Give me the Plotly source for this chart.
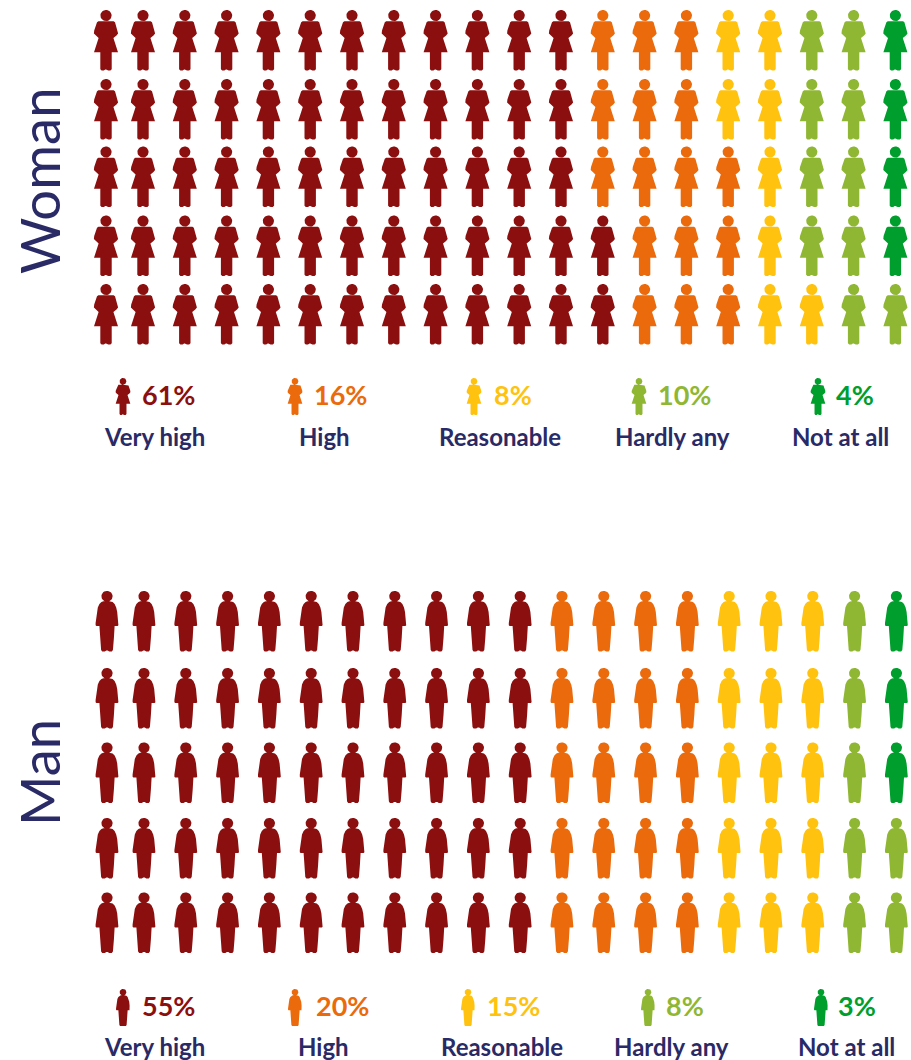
import numpy as np
import plotly.graph_objects as go

categories = ["Very high", "High", "Reasonable", "Hardly any", "Not at all"]
colors = ["#8c0f0f", "#ea6a0c", "#ffc20e", "#90b733", "#009e2d"]
navy = "#2a2a66"

woman_pct = [61, 16, 8, 10, 4]
man_pct = [55, 20, 15, 8, 3]

# icons per row (5 rows of 20) for each category
woman_very_high = [12, 12, 12, 13, 13]
woman_high = [3, 3, 4, 3, 3]
woman_reasonable = [2, 2, 1, 1, 2]
woman_hardly = [2, 2, 2, 2, 2]
woman_none = [1, 1, 1, 1, 0]
man_very_high = [11, 11, 11, 11, 11]
man_high = [4, 4, 4, 4, 4]
man_reasonable = [3, 3, 3, 3, 3]
man_hardly = [1, 1, 1, 2, 2]
man_none = [1, 1, 1, 0, 0]

woman_rows = [woman_very_high, woman_high, woman_reasonable, woman_hardly, woman_none]
man_rows = [man_very_high, man_high, man_reasonable, man_hardly, man_none]

W, H = 911, 1060
COL0, COLW = 101.2, 41.8
W_TOP, W_PITCH = 10.0, 68.5
M_TOP, M_PITCH = 591.0, 75.5
SPLIT = 530.0
# small row-by-row drift of the icon rows, in pixels
W_ROW_NUDGE = [0, 0.5, -0.5, 0, 0]
M_ROW_NUDGE = [0, 1.5, 0.5, 0.5, -0.5]

def head(cy, rx, ry):
    t = np.linspace(0, 2 * np.pi, 28)
    return rx * np.cos(t), cy + ry * np.sin(t)

half_w = np.array([[0, 11.2], [7.6, 11.2], [9.0, 12.2], [11.8, 20.5], [12.1, 23.5], [10.5, 25.5],
                   [7.4, 28.0], [12.0, 42.3], [5.7, 42.3], [5.7, 59.2], [4.4, 60.6],
                   [2.2, 60.6], [0.7, 59.4], [0, 59.4]])
half_m = np.array([[0, 9.8], [3.6, 10.2], [5.6, 10.9], [7.6, 13.0], [9.2, 16.5], [10.2, 21.0],
                   [10.8, 27.0], [11.4, 32.0], [11.4, 34.2], [10.6, 34.9], [7.6, 34.9], [6.9, 47.0],
                   [5.9, 59.0], [4.8, 60.6], [2.2, 60.6], [0.7, 59.4], [0, 59.4]])

def outline(half, hcy, hrx, hry):
    bx = np.r_[half[:, 0], -half[::-1, 0]]
    by = np.r_[half[:, 1], half[::-1, 1]]
    hx, hy = head(hcy, hrx, hry)
    return np.r_[hx, np.nan, bx], np.r_[hy, np.nan, by]

WOMAN = outline(half_w, 5.5, 5.6, 5.6)
MAN = outline(half_m, 5.3, 5.6, 5.4)

def column_position(col):
    # first column sits a little closer to the second one
    return col + (0.115 if col == 0 else 0.0)

def place(shape, cx_units, top_units, pitch, scale=1.0):
    x = cx_units + shape[0] * scale / COLW
    y = top_units + shape[1] * scale / pitch
    return list(x) + [None], list(y) + [None]

fig = go.Figure()

def add_grid(rows, shape, pitch, nudge, xax, yax, dx=0.0):
    for c, counts in enumerate(rows):
        xs, ys = [], []
        for r in range(5):
            start = sum(rows[k][r] for k in range(c))
            for col in range(start, start + counts[r]):
                px, py = place(shape, column_position(col) + dx, r + nudge[r] / pitch, pitch)
                xs += px
                ys += py
        fig.add_trace(go.Scatter(x=xs, y=ys, xaxis=xax, yaxis=yax, mode="lines",
                                 fill="toself", fillcolor=colors[c], line=dict(width=0),
                                 name=categories[c], hoverinfo="name", showlegend=False))

add_grid(woman_rows, WOMAN, W_PITCH, W_ROW_NUDGE, "x", "y")
add_grid(man_rows, MAN, M_PITCH, M_ROW_NUDGE, "x", "y2", dx=1 / COLW)

def xu(px):
    return (px - COL0) / COLW

annotations = []

def add_legend(pcts, shape, pitch, top, yax, icon_px, pct_px, label_px, icon_top, pct_y, label_y):
    for i, cat in enumerate(categories):
        px, py = place(shape, xu(icon_px[i]), (icon_top - top) / pitch, pitch, scale=0.61)
        fig.add_trace(go.Scatter(x=px, y=py, xaxis="x", yaxis=yax, mode="lines", fill="toself",
                                 fillcolor=colors[i], line=dict(width=0), hoverinfo="skip",
                                 showlegend=False))
        annotations.append(dict(x=xu(pct_px[i]), y=(pct_y - top) / pitch, xref="x", yref=yax,
                                text=f"{pcts[i]}%", showarrow=False, xanchor="left", yanchor="middle",
                                font=dict(family="Lato", size=27, color=colors[i], weight=700)))
        annotations.append(dict(x=xu(label_px[i]), y=(label_y - top) / pitch, xref="x", yref=yax,
                                text=cat, showarrow=False, xanchor="center", yanchor="middle",
                                font=dict(family="Lato", size=24, color=navy, weight=700)))

add_legend(woman_pct, WOMAN, W_PITCH, W_TOP, "y",
           [123, 295, 474, 639, 818], [140, 312, 492, 656, 834], [154.5, 324.5, 499.5, 672.5, 840.5], 378, 394.5, 436)
add_legend(man_pct, MAN, M_PITCH, M_TOP, "y2",
           [123, 295, 468, 648, 821], [140, 314, 485, 664, 836], [154.5, 323.5, 501.5, 671.5, 846.5], 989, 1005.5, 1046)

annotations.append(dict(x=xu(39), y=(181 - W_TOP) / W_PITCH, xref="x", yref="y", text="Woman", textangle=-90,
                        showarrow=False, font=dict(family="Lato", size=54.5, color=navy)))
annotations.append(dict(x=xu(39), y=(773 - M_TOP) / M_PITCH, xref="x", yref="y2", text="Man", textangle=-90,
                        showarrow=False, font=dict(family="Lato", size=54.5, color=navy)))

hidden = dict(visible=False, fixedrange=True)
fig.update_layout(
    width=W, height=H, margin=dict(l=0, r=0, t=0, b=0), autosize=False,
    paper_bgcolor="white", plot_bgcolor="white", showlegend=False,
    xaxis=dict(range=[xu(0), xu(W)], domain=[0, 1], **hidden),
    yaxis=dict(range=[(SPLIT - W_TOP) / W_PITCH, -W_TOP / W_PITCH],
               domain=[1 - SPLIT / H, 1], **hidden),
    yaxis2=dict(range=[(H - M_TOP) / M_PITCH, (SPLIT - M_TOP) / M_PITCH],
                domain=[0, 1 - SPLIT / H], **hidden),
    annotations=annotations,
)
fig.write_html("out.html", config=dict(displayModeBar=False),
               post_script="document.body.style.margin='0';document.documentElement.style.overflow='hidden';")
